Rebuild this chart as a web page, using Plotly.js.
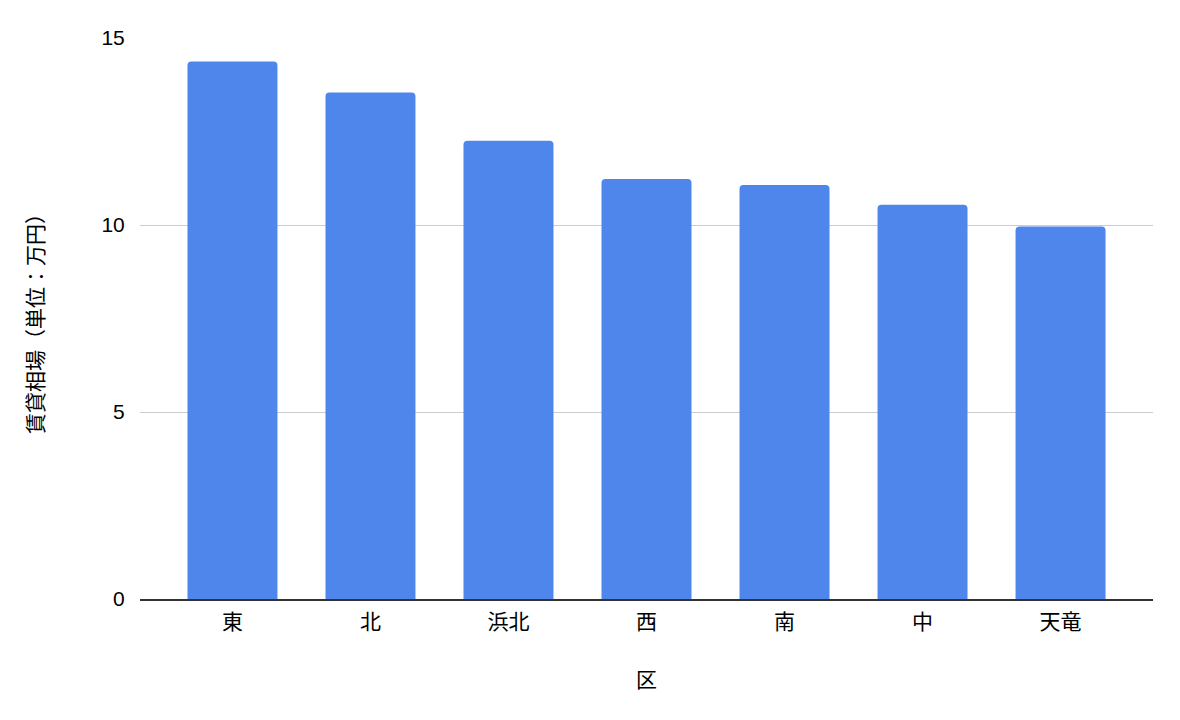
<!DOCTYPE html>
<html>
<head>
<meta charset="utf-8">
<script src="https://cdn.plot.ly/plotly-3.0.1.min.js"></script>
<style>html,body{margin:0;padding:0;background:#fff;}#chart{width:1180px;height:720px;}</style>
</head>
<body>
<div id="chart"></div>
<script>
const categories = ["東", "北", "浜北", "西", "南", "中", "天竜"];
const rentValues = [14.37, 13.54, 12.25, 11.23, 11.07, 10.54, 9.96];
const yTickValues = [0, 5, 10, 15];

const cjk = '"Noto Sans CJK JP", "Liberation Sans", Arial, sans-serif';

Plotly.newPlot('chart', [{
  type: 'bar',
  x: categories,
  y: rentValues,
  marker: {color: '#4f86eb', cornerradius: 4},
  hoverinfo: 'x+y'
}], {
  width: 1180, height: 720,
  margin: {l: 140, r: 27, t: 38, b: 121},
  paper_bgcolor: '#fff', plot_bgcolor: '#fff',
  bargap: 0.348,
  showlegend: false,
  font: {family: cjk, color: '#000'},
  xaxis: {
    type: 'category',
    range: [-0.67, 6.67],
    showline: true, linecolor: '#333', linewidth: 1.5,
    showgrid: false, zeroline: false,
    ticks: 'outside', ticklen: 3, tickcolor: 'rgba(0,0,0,0)',
    tickfont: {family: cjk, size: 21, color: '#000'},
    title: {text: '区', font: {family: cjk, size: 21, color: '#000'}, standoff: 38}
  },
  yaxis: {
    range: [0, 15],
    tickvals: yTickValues,
    ticktext: yTickValues.map(String),
    showgrid: true, gridcolor: '#cccccc', gridwidth: 1,
    zeroline: false, showline: false,
    ticks: 'outside', ticklen: 10, tickcolor: 'rgba(0,0,0,0)',
    tickfont: {family: '"Liberation Sans", Arial, sans-serif', size: 21, color: '#000'},
    title: {text: '賃貸相場（単位：万円）', font: {family: cjk, size: 21, color: '#000'}, standoff: 52}
  }
}, {displayModeBar: false, staticPlot: true});
</script>
</body>
</html>
